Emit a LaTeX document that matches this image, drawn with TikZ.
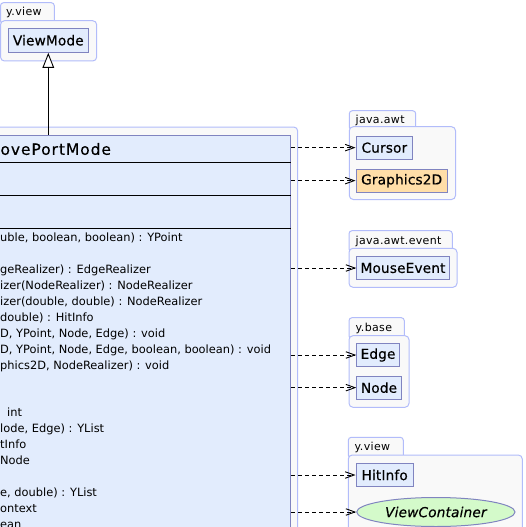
\documentclass[tikz,border=0pt]{standalone}
\usepackage{fontspec}
\setmainfont{DejaVu Sans}
\newfontfamily\boxfont[LetterSpace=1,FakeBold=0.4]{DejaVu Sans}
\newfontfamily\namefont[LetterSpace=6,FakeBold=0.4]{DejaVu Sans}
\newfontfamily\tabfont[LetterSpace=3]{DejaVu Sans}
\usetikzlibrary{arrows.meta,shapes.geometric}
\definecolor{pkgline}{RGB}{178,188,250}
\definecolor{pkgfill}{RGB}{249,249,249}
\definecolor{boxfill}{RGB}{226,236,253}
\definecolor{boxline}{RGB}{128,132,192}
\definecolor{orangefill}{RGB}{255,222,168}
\definecolor{greenfill}{RGB}{212,250,202}
\begin{document}
\begin{tikzpicture}[x=1pt,y=-1pt,
  pkgbody/.style={draw=pkgline,fill=pkgfill,line width=1pt,rounded corners=4pt},
  pkgtab/.style={draw=pkgline,fill=pkgfill,line width=1pt,rounded corners=3pt},
  tablabel/.style={anchor=base west,inner sep=0pt,font=\tabfont\fontsize{11}{13}\selectfont},
  umlbox/.style={draw=boxline,fill=boxfill,line width=1pt,inner sep=0pt,minimum height=23.3pt,font=\boxfont\fontsize{13.7}{15}\selectfont},
  member/.style={anchor=base west,inner sep=0pt,font=\fontsize{11.4}{13}\selectfont},
  dep/.style={draw=black,line width=0.9pt,dash pattern=on 4pt off 3pt,-{Straight Barb[length=9pt,width=6.5pt]}},
  inherit/.style={draw=black,line width=0.9pt,-{Triangle[open,length=15pt,width=11.6pt,fill=white]}}
]
\useasboundingbox (0,0) rectangle (525,527);
\clip (0,0) rectangle (525,527);
\fill[white] (0,0) rectangle (525,527);

% top-left package y.view
\draw[pkgtab] (0.5,2.7) rectangle (54.3,24);
\draw[pkgbody] (0.5,20.7) rectangle (96.7,61);
\node[tablabel] (tabyview1) at (6,16) {y.view};
\node[umlbox, minimum width=80pt, minimum height=24pt] (viewmode) at (48.3,40.3) {ViewMode};

% main package and class
\draw[pkgbody] (-20,127) rectangle (297.7,560);
\node[draw=boxline, fill=boxfill, line width=1pt, inner sep=0pt, minimum width=310.7pt, minimum height=425pt] (mainclass) at (135.35,347.5) {};
\draw[black, line width=0.9pt] (-20,162) -- (290.7,162);
\draw[black, line width=0.9pt] (-20,195) -- (290.7,195);
\draw[black, line width=0.9pt] (-20,228) -- (290.7,228);
\node[anchor=base west, inner sep=0pt, font=\namefont\fontsize{15.5}{17}\selectfont] (cname) at (0.3,154.8) {ovePortMode};

\node[member] (m1) at (0,241.3) {uble, boolean, boolean) : YPoint};
\node[member] (m2) at (0,273.3) {geRealizer) : EdgeRealizer};
\node[member] (m3) at (0,289.3) {izer(NodeRealizer) : NodeRealizer};
\node[member] (m4) at (0,305.3) {izer(double, double) : NodeRealizer};
\node[member] (m5) at (0,321.3) {double) : HitInfo};
\node[member] (m6) at (0,337.3) {D, YPoint, Node, Edge) : void};
\node[member] (m7) at (0,353.3) {D, YPoint, Node, Edge, boolean, boolean) : void};
\node[member] (m8) at (0,369.3) {phics2D, NodeRealizer) : void};
\node[member] (m9) at (7,416.7) {int};
\node[member] (m10) at (0,432.7) {lode, Edge) : YList};
\node[member] (m11) at (0,448.7) {tInfo};
\node[member] (m12) at (0,464.7) {Node};
\node[member] (m13) at (0,496.7) {e, double) : YList};
\node[member] (m14) at (0,512.7) {ontext};
\node[member] (m15) at (0,528.7) {ean};

% java.awt
\draw[pkgtab] (349.3,110.7) rectangle (415.7,130);
\draw[pkgbody] (349.3,126.7) rectangle (455.5,199.5);
\node[tablabel] (tabawt) at (355.5,123.3) {java.awt};
\node[umlbox, minimum width=56.7pt] (cursor) at (384.35,147.65) {Cursor};
\node[umlbox, minimum width=91.3pt, fill=orangefill] (graphics) at (401.65,180.65) {Graphics2D};

% java.awt.event
\draw[pkgtab] (349,230.7) rectangle (452.3,252);
\draw[pkgbody] (349,248.3) rectangle (457,287.3);
\node[tablabel] (tabevent) at (355.5,244) {java.awt.event};
\node[umlbox, minimum width=92.6pt] (mouse) at (403,268) {MouseEvent};

% y.base
\draw[pkgtab] (349,317.7) rectangle (404.3,339);
\draw[pkgbody] (349,335.7) rectangle (409,407.3);
\node[tablabel] (tabbase) at (355.5,331) {y.base};
\node[umlbox, minimum width=42.6pt] (edge) at (378,355) {Edge};
\node[umlbox, minimum width=44.6pt] (nodebox) at (379,387.65) {Node};

% y.view bottom
\draw[pkgtab] (348.3,437.3) rectangle (403.3,458);
\draw[pkgbody] (348.3,455) rectangle (522.3,560);
\node[tablabel] (tabyview2) at (354.5,450.5) {y.view};
\node[umlbox, minimum width=57.3pt] (hitinfo) at (384.65,475) {HitInfo};
\node[umlbox, ellipse, fill=greenfill, minimum width=158.3pt, minimum height=29pt, font=\boxfont\itshape\fontsize{13.7}{15}\selectfont] (viewcontainer) at (435.85,512) {ViewContainer};

% connectors
\draw[inherit] (mainclass.north -| viewmode.south) -- (viewmode.south);
\draw[dep] (mainclass.east |- cursor.west) -- (cursor.west);
\draw[dep] (mainclass.east |- graphics.west) -- (graphics.west);
\draw[dep] (mainclass.east |- mouse.west) -- (mouse.west);
\draw[dep] (mainclass.east |- edge.west) -- (edge.west);
\draw[dep] (mainclass.east |- nodebox.west) -- (nodebox.west);
\draw[dep] (mainclass.east |- hitinfo.west) -- (hitinfo.west);
\draw[dep] (mainclass.east |- viewcontainer.west) -- (viewcontainer.west);
\end{tikzpicture}
\end{document}
